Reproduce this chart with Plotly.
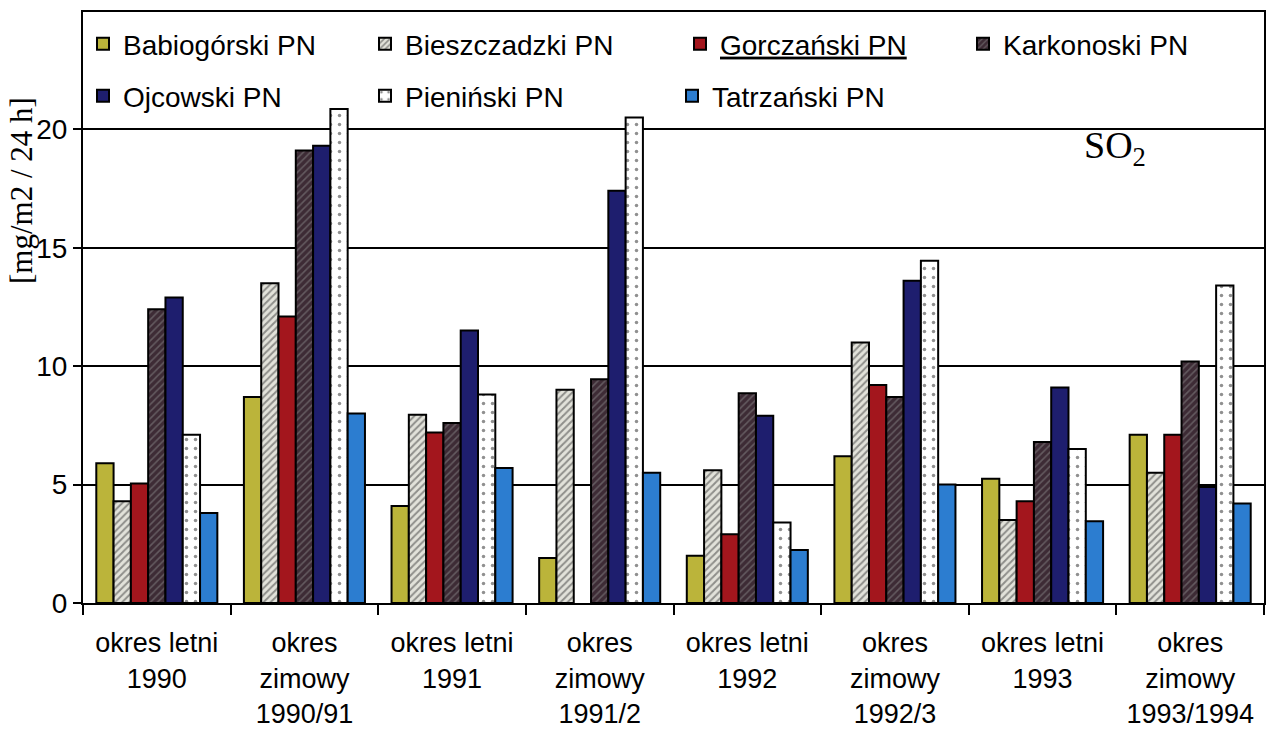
import plotly.graph_objects as go

categories = [
    "okres letni<br>1990",
    "okres<br>zimowy<br>1990/91",
    "okres letni<br>1991",
    "okres<br>zimowy<br>1991/2",
    "okres letni<br>1992",
    "okres<br>zimowy<br>1992/3",
    "okres letni<br>1993",
    "okres<br>zimowy<br>1993/1994",
]

babiogorski = [5.9, 8.7, 4.1, 1.9, 2.0, 6.2, 5.25, 7.1]
bieszczadzki = [4.3, 13.5, 7.95, 9.0, 5.6, 11.0, 3.5, 5.5]
gorczanski = [5.05, 12.1, 7.2, None, 2.9, 9.2, 4.3, 7.1]
karkonoski = [12.4, 19.1, 7.6, 9.45, 8.85, 8.7, 6.8, 10.2]
ojcowski = [12.9, 19.3, 11.5, 17.4, 7.9, 13.6, 9.1, 4.9]
pieninski = [7.1, 20.85, 8.8, 20.5, 3.4, 14.45, 6.5, 13.4]
tatrzanski = [3.8, 8.0, 5.7, 5.5, 2.24, 5.0, 3.45, 4.2]

series = [
    ("Babiogórski PN", babiogorski),
    ("Bieszczadzki PN", bieszczadzki),
    ("<u>Gorczański PN</u>", gorczanski),
    ("Karkonoski PN", karkonoski),
    ("Ojcowski PN", ojcowski),
    ("Pieniński PN", pieninski),
    ("Tatrzański PN", tatrzanski),
]

styles = [
    dict(color="#bbb43a"),
    dict(color="#e2e2da", pattern=dict(shape="/", fgcolor="#3a3a3a", bgcolor="#e2e2da", size=5, solidity=0.4)),
    dict(color="#a3161d"),
    dict(color="#3d2b35", pattern=dict(shape="/", fgcolor="#8c8c8c", bgcolor="#3d2b35", size=5, solidity=0.3)),
    dict(color="#1e1e6e"),
    dict(color="#ffffff", pattern=dict(shape=".", fgcolor="#222222", bgcolor="#ffffff", size=9, solidity=0.12)),
    dict(color="#2c7dd0"),
]

# legend placement (pixel positions: text start x, centre y)
leg_pos = [(123, 44), (405, 44), (720, 44), (1003, 44), (123, 96), (405, 96), (712, 96)]

L, R, T, B = 83, 2, 12, 129
W, H = 1266, 732
pw, ph = W - L - R, H - T - B

fig = go.Figure()
layout_legends = {}
for i, ((name, vals), st) in enumerate(zip(series, styles)):
    lname = "legend" if i == 0 else f"legend{i+1}"
    fig.add_trace(go.Bar(
        name=name, x=categories, y=vals,
        marker=dict(line=dict(color="black", width=2), **st),
        legend=lname,
    ))
    tx, ty = leg_pos[i]
    layout_legends[lname] = dict(
        x=(tx - 40 - L) / pw, y=(H - B - ty) / ph,
        xanchor="left", yanchor="middle",
        bgcolor="rgba(0,0,0,0)",
        font=dict(family="Liberation Sans, Arial", size=28, color="black"),
    )

fig.update_layout(
    width=W, height=H,
    margin=dict(l=L, r=R, t=T, b=B, pad=0, autoexpand=False),
    barmode="group", bargap=0.18, bargroupgap=0,
    plot_bgcolor="white", paper_bgcolor="white",
    font=dict(family="Liberation Sans, Arial", size=28, color="black"),
    showlegend=True,
    **layout_legends,
)

fig.update_xaxes(
    type="category", tickson="boundaries", ticks="outside", ticklen=10,
    tickwidth=1.5, tickcolor="black",
    showline=True, linecolor="black", linewidth=2, mirror=True,
    showgrid=False, ticklabelstandoff=15, automargin=False,
    tickfont=dict(size=27),
)
fig.update_yaxes(
    range=[0, 24.95], tickvals=[0, 5, 10, 15, 20],
    ticks="outside", ticklen=8, tickwidth=1.5, tickcolor="black",
    showline=True, linecolor="black", linewidth=2, mirror=True,
    showgrid=True, gridcolor="black", gridwidth=1.5, automargin=False,
    zeroline=False, tickfont=dict(size=28),
)

fig.add_annotation(
    text="[mg/m2 / 24 h]", textangle=-90, showarrow=False,
    xref="paper", yref="paper",
    x=(22 - L) / pw, y=(H - B - 191) / ph,
    xanchor="center", yanchor="middle",
    font=dict(family="Liberation Serif, Times New Roman", size=31, color="black"),
)
fig.add_annotation(
    text="SO<sub>2</sub>", showarrow=False,
    xref="paper", yref="paper",
    x=(1115 - L) / pw, y=(H - B - 148) / ph,
    xanchor="center", yanchor="middle",
    font=dict(family="Liberation Serif, Times New Roman", size=38, color="black"),
)

fig.write_html(
    "out.html",
    config={"displayModeBar": False},
    post_script="document.body.style.margin='0';document.body.style.overflow='hidden';",
)
